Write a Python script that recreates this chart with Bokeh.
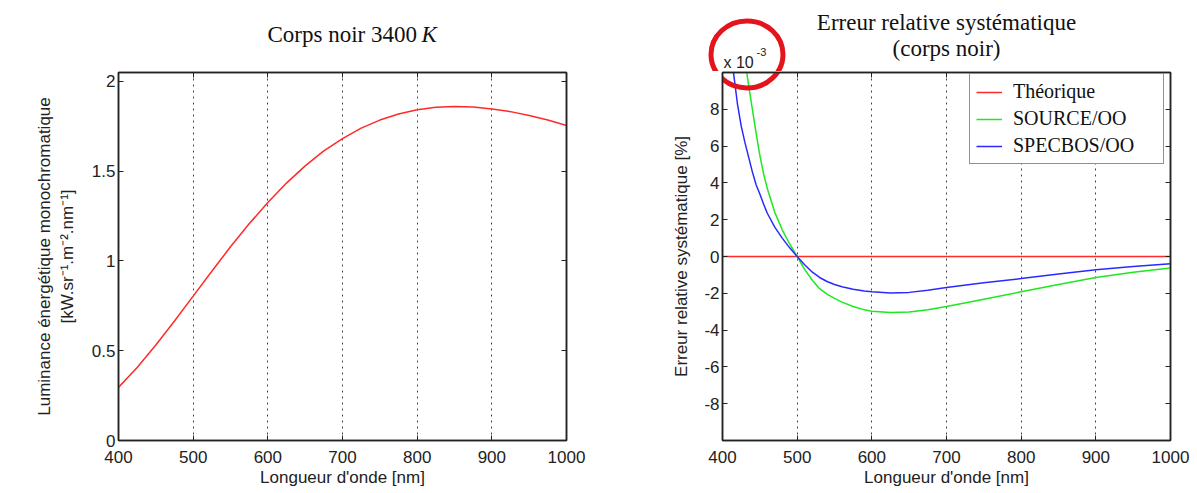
from bokeh.plotting import figure
from bokeh.layouts import row, column
from bokeh.models import Range1d, FixedTicker, LinearAxis, Label, Legend, LegendItem
from bokeh.embed import file_html
from bokeh.resources import INLINE

# ---------------- data ----------------
wavelength_nm = [400, 425, 450, 475, 500, 525, 550, 575, 600, 625, 650, 675, 700,
                 725, 750, 775, 800, 825, 850, 875, 900, 925, 950, 975, 1000]
luminance_kw = [0.296, 0.407, 0.532, 0.666, 0.804, 0.943, 1.079, 1.207, 1.326, 1.434,
                1.530, 1.613, 1.682, 1.740, 1.785, 1.819, 1.842, 1.856, 1.860, 1.858,
                1.847, 1.832, 1.811, 1.785, 1.755]

err_wavelength_nm = [400, 405, 410, 415, 420, 425, 430, 435, 440, 445, 450, 455, 460,
                     470, 480, 490, 500, 510, 520, 530, 540, 550, 560, 575, 590, 600,
                     625, 650, 675, 700, 750, 800, 850, 900, 950, 1000]
theorique_err = [0.0] * len(err_wavelength_nm)
source_err = [26.0, 22.0, 19.0, 16.3, 14.0, 12.2, 10.7, 9.3, 8.0, 6.7, 5.5, 4.5, 3.7,
              2.4, 1.45, 0.68, 0.0, -0.70, -1.28, -1.75, -2.05, -2.28, -2.48, -2.72,
              -2.90, -2.98, -3.04, -3.02, -2.90, -2.72, -2.32, -1.92, -1.52, -1.14,
              -0.86, -0.63]
specbos_err = [15.5, 13.2, 11.4, 9.9, 8.3, 7.1, 6.2, 5.4, 4.6, 3.9, 3.4, 2.85, 2.35,
               1.6, 1.0, 0.47, 0.0, -0.45, -0.84, -1.14, -1.36, -1.52, -1.64, -1.78,
               -1.87, -1.91, -1.98, -1.95, -1.83, -1.69, -1.43, -1.20, -0.95, -0.72,
               -0.55, -0.40]

x_ticks = [400, 500, 600, 700, 800, 900, 1000]
grid_ticks = [500, 600, 700, 800, 900]
left_y_ticks = [0, 0.5, 1, 1.5, 2]
left_y_labels = ["0", "0.5", "1", "1.5", "2"]
right_y_ticks = [-8, -6, -4, -2, 0, 2, 4, 6, 8]
right_y_labels = ["-8", "-6", "-4", "-2", "0", "2", "4", "6", "8"]
legend_labels = ["Théorique", "SOURCE/OO", "SPECBOS/OO"]

# highlight circle round the "x 10^-3" multiplier (in the right panel's data units)
circle_center_nm = 432.8
circle_center_err = 10.98

SANS = "Liberation Sans"
SERIF = "Liberation Serif"
INK = "#222222"
FS = "17px"
HDR = 71            # header strip height (titles, multiplier)
MAIN_H = 493 - HDR  # main figure height
FRAME_H = 368
X0, X1 = 400, 1000
Y2 = (-10, 10)


def style_axis(ax, ticks, show_labels=True, standoff=4):
    ax.ticker = FixedTicker(ticks=ticks)
    ax.axis_line_color = INK
    ax.axis_line_width = 1.5
    ax.major_tick_in = 5
    ax.major_tick_out = 0
    ax.major_tick_line_color = INK
    ax.major_tick_line_width = 1
    ax.minor_tick_line_color = None
    ax.major_label_text_font = SANS
    ax.axis_label_text_font = SANS
    ax.axis_label_text_font_style = "normal"
    ax.axis_label_text_font_size = FS
    ax.axis_label_text_color = INK
    if show_labels:
        ax.major_label_text_font_size = FS
        ax.major_label_text_color = INK
        ax.major_label_standoff = standoff
    else:
        ax.major_label_text_font_size = "0px"
        ax.major_label_text_color = None
        ax.major_label_standoff = 0


def make_fig(width, mb_left, mb_right, y_range, y_ticks, y_labels):
    p = figure(width=width, height=MAIN_H, x_range=Range1d(X0, X1), y_range=y_range,
               output_backend="svg", toolbar_location=None,
               min_border_left=mb_left, min_border_right=mb_right,
               min_border_top=1, min_border_bottom=53)
    p.background_fill_color = "white"
    p.border_fill_color = "white"
    p.outline_line_color = INK
    p.outline_line_width = 1.5
    p.ygrid.visible = False
    p.xgrid.ticker = FixedTicker(ticks=grid_ticks)
    p.xgrid.grid_line_color = "#444444"
    p.xgrid.grid_line_dash = "2 4"
    p.xgrid.grid_line_width = 1
    style_axis(p.xaxis[0], x_ticks, standoff=10)
    style_axis(p.yaxis[0], y_ticks, standoff=3)
    p.yaxis[0].major_label_overrides = {t: l for t, l in zip(y_ticks, y_labels)}
    p.xaxis[0].axis_label = "Longueur d'onde [nm]"
    p.xaxis[0].axis_label_standoff = 2
    top = LinearAxis()
    style_axis(top, x_ticks, show_labels=False)
    p.add_layout(top, "above")
    right = LinearAxis()
    style_axis(right, y_ticks, show_labels=False)
    p.add_layout(right, "right")
    return p


def make_header(width, x_range, y_range):
    h = figure(width=width, height=HDR, x_range=x_range, y_range=y_range,
               output_backend="svg", toolbar_location=None,
               x_axis_type=None, y_axis_type=None,
               min_border_left=0, min_border_right=0,
               min_border_top=0, min_border_bottom=0)
    if "frame_align" in h.properties():
        h.frame_align = False
    h.outline_line_color = None
    h.grid.visible = False
    h.background_fill_color = "white"
    h.border_fill_color = "white"
    return h


def add_text(p, x, y, text, font, size, style="normal", align="left",
             baseline="middle", color="#111111"):
    p.add_layout(Label(x=x, y=y, x_units="screen", y_units="screen", text=text,
                       text_font=font, text_font_size=size, text_font_style=style,
                       text_align=align, text_baseline=baseline, text_color=color))


# ---------------- left panel ----------------
p1 = make_fig(598, 118, 32, Range1d(0, 2.05), left_y_ticks, left_y_labels)
p1.yaxis[0].axis_label = "Luminance énergétique monochromatique\n[kW.sr⁻¹.m⁻².nm⁻¹]"
p1.yaxis[0].axis_label_standoff = 12
p1.line(wavelength_nm, luminance_kw, line_color="#ff2a2a", line_width=1.5)

h1 = make_header(598, Range1d(0, 598), Range1d(0, HDR))
add_text(h1, 416.5, 37, "Corps noir 3400", SERIF, "23px", align="right")
add_text(h1, 421, 37, "K", SERIF, "23px", style="italic", align="left")

# ---------------- right panel ----------------
p2 = make_fig(599, 124, 27, Range1d(*Y2), right_y_ticks, right_y_labels)
p2.yaxis[0].axis_label = "Erreur relative systématique [%]"
p2.yaxis[0].axis_label_standoff = 10

r_th = p2.line(err_wavelength_nm, theorique_err, line_color="#ff2a2a", line_width=1.5)
r_so = p2.line(err_wavelength_nm, source_err, line_color="#1ee81e", line_width=1.5)
r_sp = p2.line(err_wavelength_nm, specbos_err, line_color="#2a2aff", line_width=1.5)

legend = Legend(items=[LegendItem(label=legend_labels[0], renderers=[r_th]),
                       LegendItem(label=legend_labels[1], renderers=[r_so]),
                       LegendItem(label=legend_labels[2], renderers=[r_sp])],
                location=(247, 276))
legend.label_text_font = SERIF
legend.label_text_font_size = "20px"
legend.label_text_color = "#111111"
legend.border_line_color = INK
legend.border_line_width = 1.5
legend.background_fill_color = "white"
legend.background_fill_alpha = 1.0
legend.glyph_width = 26
legend.glyph_height = 20
legend.label_height = 20
legend.label_width = 144
legend.label_standoff = 11
legend.padding = 6
legend.spacing = 4
legend.margin = 0
p2.add_layout(legend)

# header strip of the right panel continues the right panel's scales upwards
px_per_nm = 448 / (X1 - X0)
px_per_unit = FRAME_H / (Y2[1] - Y2[0])
h2_x = Range1d(X0 - 124 / px_per_nm, X1 + 27 / px_per_nm)
h2_y = Range1d(Y2[1] + 1 / px_per_unit, Y2[1] + (HDR + 1) / px_per_unit)
h2 = make_header(599, h2_x, h2_y)

add_text(h2, 348, 49, "Erreur relative systématique", SERIF, "23px", align="center")
add_text(h2, 348, 23, "(corps noir)", SERIF, "23px", align="center")
add_text(h2, 125, 9, "x 10", SANS, "16px", baseline="alphabetic", color=INK)
add_text(h2, 158, 20, "-3", SANS, "11px", baseline="alphabetic", color=INK)

for fig in (h2, p2):
    fig.ellipse(x=[circle_center_nm], y=[circle_center_err], width=72, height=67,
                width_units="screen", height_units="screen",
                fill_color=None, line_color="#e3141b", line_width=5)

layout = row(column(row(h1), p1), column(row(h2), p2))
open("out.html", "w").write(file_html(layout, INLINE))
